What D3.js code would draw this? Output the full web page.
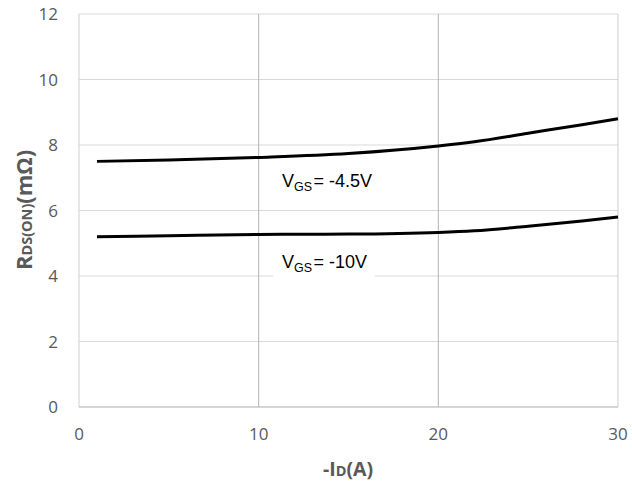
<!DOCTYPE html>
<html>
<head>
<meta charset="utf-8">
<script src="https://cdn.jsdelivr.net/npm/d3@7"></script>
<style>
  body { margin: 0; background: #fff; }
  svg { display: block; }
</style>
</head>
<body>
<div class="canvas"></div>
<script>
'use strict';
// -ID (A) vs RDS(ON) (mOhm)
var idA = [1, 5, 10, 15, 20, 22, 25, 28, 30];
var rds45 = [7.50, 7.54, 7.62, 7.74, 7.97, 8.10, 8.36, 8.62, 8.80];
var rds10 = [5.20, 5.23, 5.27, 5.28, 5.33, 5.38, 5.52, 5.68, 5.80];
var xTicks = [0, 10, 20, 30];
var yTicks = [0, 2, 4, 6, 8, 10, 12];

var W = 632, H = 483;
var pLeft = 79, pRight = 618, pTop = 14, pBottom = 407;

var svg = d3.select(".canvas").append("svg")
    .attr("width", W)
    .attr("height", H);

var x = d3.scaleLinear().domain([0, 30]).range([pLeft, pRight]);
var y = d3.scaleLinear().domain([0, 12]).range([pBottom, pTop]);

// horizontal grid
svg.append("g").selectAll("line")
    .data(yTicks)
    .join("line")
    .attr("x1", pLeft).attr("x2", pRight)
    .attr("y1", d => y(d)).attr("y2", d => y(d))
    .attr("stroke", "#d9d9d9")
    .attr("stroke-width", 1);

// vertical grid + edges
svg.append("g").selectAll("line")
    .data(xTicks)
    .join("line")
    .attr("x1", d => x(d)).attr("x2", d => x(d))
    .attr("y1", pTop).attr("y2", pBottom)
    .attr("stroke", d => (d === 0 || d === 30) ? "#cfcfcf" : "#b3b3b3")
    .attr("stroke-width", 1);

// bottom axis line
svg.append("line")
    .attr("x1", pLeft).attr("x2", pRight)
    .attr("y1", pBottom).attr("y2", pBottom)
    .attr("stroke", "#bfbfbf");

// tick labels
svg.append("g").selectAll("text")
    .data(yTicks)
    .join("text")
    .attr("x", 58)
    .attr("y", d => y(d) + 6.3)
    .attr("text-anchor", "end")
    .attr("font-family", "Open Sans, sans-serif")
    .attr("font-size", 17)
    .attr("fill", "#595959")
    .text(d => d);

svg.append("g").selectAll("text")
    .data(xTicks)
    .join("text")
    .attr("x", d => x(d))
    .attr("y", 440)
    .attr("text-anchor", "middle")
    .attr("font-family", "Open Sans, sans-serif")
    .attr("font-size", 17)
    .attr("fill", "#595959")
    .text(d => d);

// curves
var line = d3.line()
    .x((d, i) => x(idA[i]))
    .y(d => y(d))
    .curve(d3.curveMonotoneX);

[rds45, rds10].forEach(function(s) {
    svg.append("path")
        .attr("d", line(s))
        .attr("fill", "none")
        .attr("stroke", "#000")
        .attr("stroke-width", 3);
});

// curve labels
function vgsLabel(xv, yv, val) {
    var xp = x(xv), yp = y(yv);
    var g = svg.append("g");
    g.append("rect")
        .attr("x", xp - 9).attr("y", yp - 18)
        .attr("width", 102).attr("height", 30)
        .attr("fill", "#fff");
    var t = g.append("text")
        .attr("x", xp).attr("y", yp)
        .attr("font-family", "Liberation Sans, Arial, sans-serif")
        .attr("font-size", 18)
        .attr("fill", "#000");
    t.append("tspan").text("V");
    t.append("tspan").attr("dy", 4).attr("font-size", 12.5).text("GS");
    t.append("tspan").attr("dy", -4).attr("dx", 1.5).text("= " + val);
}
vgsLabel(11.3, 6.72, "-4.5V");
vgsLabel(11.3, 4.23, "-10V");

// axis titles
var xt = svg.append("text")
    .attr("x", 348).attr("y", 476)
    .attr("text-anchor", "middle")
    .attr("font-family", "Open Sans, sans-serif")
    .attr("font-weight", "bold")
    .attr("font-size", 19.5)
    .attr("fill", "#595959");
xt.append("tspan").text("-I");
xt.append("tspan").attr("font-size", 14.5).text("D");
xt.append("tspan").text("(A)");

var yt = svg.append("text")
    .attr("transform", "translate(31.5,210) rotate(-90)")
    .attr("text-anchor", "middle")
    .attr("font-family", "Open Sans, sans-serif")
    .attr("font-weight", "bold")
    .attr("font-size", 22)
    .attr("fill", "#595959");
yt.append("tspan").text("R");
yt.append("tspan").attr("font-size", 14.5).text("DS(ON)");
yt.append("tspan").text("(mΩ)");
</script>
</body>
</html>
